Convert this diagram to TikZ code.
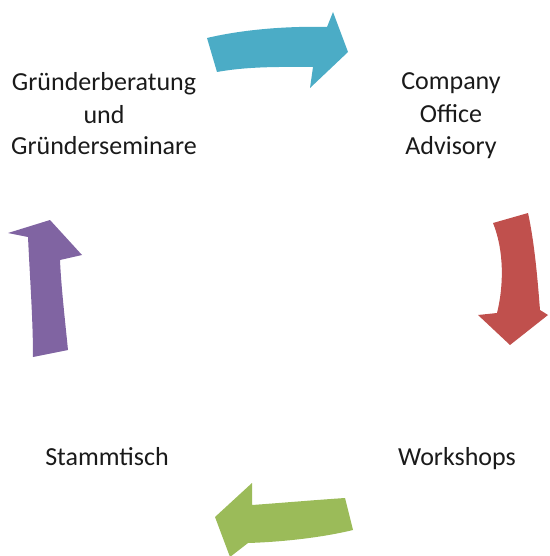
\documentclass[tikz,border=0pt]{standalone}
\usepackage{fontspec}
\setmainfont{Carlito}
\definecolor{cblue}{HTML}{4BACC6}
\definecolor{cred}{HTML}{C0504D}
\definecolor{cgreen}{HTML}{9BBB59}
\definecolor{cpurple}{HTML}{8064A2}
\definecolor{ctext}{HTML}{1A1A1A}
\tikzset{
  lbl/.style={inner sep=0pt, anchor=base, align=center, text=ctext,
    font=\fontsize{26}{32}\selectfont},
}
\begin{document}
\begin{tikzpicture}[x=1pt,y=-1pt]
\useasboundingbox (0,0) rectangle (549,556);
% labels
\node[lbl] (gruender) at (104,155) {Gründerberatung\\und\\Gründerseminare};
\node[lbl] (company) at (451,154) {Company\\Office\\Advisory};
\node[lbl] (stamm) at (107,465) {Stammtisch};
\node[lbl] (work) at (457,465) {Workshops};
% blue arrow (top, pointing right)
\fill[cblue] (207,38) .. controls (245,29) and (290,26) .. (327,27)
  -- (333,12) -- (348,52) -- (310,88) -- (313,67)
  .. controls (285,67) and (250,66) .. (217,72) -- cycle;
% red arrow (right, pointing down)
\fill[cred] (493,223) -- (528,213) .. controls (535,245) and (538,285) .. (540,310)
  -- (548,315) -- (510,345) -- (478,315) -- (497,313)
  .. controls (504,285) and (504,250) .. (493,223) -- cycle;
% green arrow (bottom, pointing left)
\fill[cgreen] (345,498) .. controls (315,500) and (280,503) .. (252,505)
  -- (252,483) -- (215,517) -- (230,557) -- (248,543)
  .. controls (280,542) and (320,538) .. (353,530) -- cycle;
% purple arrow (left, pointing up)
\fill[cpurple] (33,357) -- (68,350) .. controls (65,320) and (61,285) .. (60,260)
  -- (82,255) -- (50,220) -- (8,233) -- (28,237)
  .. controls (30,280) and (33,320) .. (33,357) -- cycle;
\end{tikzpicture}
\end{document}
